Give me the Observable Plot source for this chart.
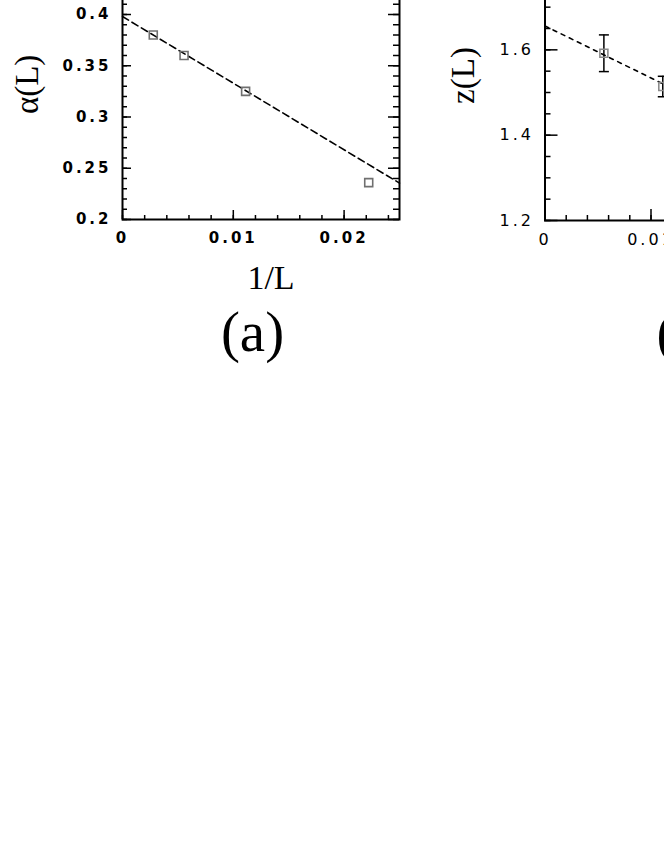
<!DOCTYPE html>
<html>
<head>
<meta charset="utf-8">
<script src="https://cdn.jsdelivr.net/npm/d3@7"></script>
<script src="https://cdn.jsdelivr.net/npm/@observablehq/plot@0.6"></script>
<style>
  body { margin: 0; background: #fff; }
  #wrap { position: relative; width: 664px; height: 860px; overflow: hidden; background: #fff; }
  #wrap > div { position: absolute; top: -60px; width: 420px; height: 440px; }
  #wrap svg { max-width: none !important; width: 420px; height: 440px; }
  #pa { left: 0px; }
  #pb { left: 420px; }
  g[aria-label="y-axis tick label"] text,
  g[aria-label="x-axis tick label"] text { letter-spacing: 3px; }
</style>
</head>
<body>
<div id="wrap"><div id="pa"></div><div id="pb"></div></div>
<script>
// ---------- Panel (a): alpha(L) vs 1/L ----------
const invLA = [1/360, 1/180, 1/90, 1/45];
const alphaL = [0.380, 0.360, 0.325, 0.236];
const fitAx = [0, 0.025];
const fitAy = [0.398, 0.2355];
const yTicksA = [0.2, 0.25, 0.3, 0.35, 0.4];
const yTickLabelsA = ["0.2", "0.25", "0.3", "0.35", "0.4"];
const xTicks = [0, 0.01, 0.02];
const xTickLabels = ["0", "0.01", "0.02"];

// ---------- Panel (b): z(L) vs 1/L ----------
const invLB = [1/180, 1/90];
const zL = [1.592, 1.514];
const zErr = [0.043, 0.024];
const fitBx = [0, 0.025];
const fitBy = [1.656, 1.351];
const yTicksB = [1.2, 1.4, 1.6];
const yTickLabelsB = ["1.2", "1.4", "1.6"];

const ptsA = invLA.map((x, i) => ({x, y: alphaL[i]}));
const fitA = fitAx.map((x, i) => ({x, y: fitAy[i]}));
const ptsB = invLB.map((x, i) => ({x, y: zL[i], lo: zL[i] - zErr[i], hi: zL[i] + zErr[i]}));
const fitB = fitBx.map((x, i) => ({x, y: fitBy[i]}));

const serif = "Liberation Serif, Times New Roman, serif";
const capSymbol = {draw(ctx, size) { const w = Math.sqrt(size) / 2; ctx.moveTo(-w, 0); ctx.lineTo(w, 0); }};

function steps(domain, step) {
  const a = Math.ceil(domain[0] / step - 1e-9), b = Math.floor(domain[1] / step + 1e-9);
  return d3.range(a, b + 1).map(k => +(k * step).toFixed(6));
}

function inwardTicks(xDomain, yDomain, xMinorStep, xMajorStep, yMinorStep, yMajorStep, pw, ph, o) {
  const xmin = steps(xDomain, xMinorStep), xmaj = steps(xDomain, xMajorStep);
  const ymin = steps(yDomain, yMinorStep), ymaj = steps(yDomain, yMajorStep);
  const st = {stroke: "black", strokeWidth: 1.5};
  const marks = [
    Plot.tickY(ymin, {y: d => d, insetRight: pw - o.yMinL, ...st}),
    Plot.tickY(ymaj, {y: d => d, insetRight: pw - o.yMajL, ...st}),
    Plot.tickX(xmin, {x: d => d, insetTop: ph - o.xMinL, ...st}),
    Plot.tickX(xmaj, {x: d => d, insetTop: ph - o.xMajL, ...st})
  ];
  if (o.right) {
    marks.push(Plot.tickY(ymin, {y: d => d, insetLeft: pw - o.yMinR, ...st}));
    marks.push(Plot.tickY(ymaj, {y: d => d, insetLeft: pw - o.yMajR, ...st}));
  }
  return marks;
}

// Panel (a)
const pwA = 277, phA = 256.25;
const plotA = Plot.plot({
  width: 420, height: 440,
  marginLeft: 122, marginRight: 21, marginTop: 22.75, marginBottom: 161,
  x: {domain: [0, 0.025]},
  y: {domain: [0.2, 0.45]},
  style: {fontFamily: "DejaVu Sans, sans-serif", fontSize: "15px", fontWeight: "bold", color: "black", background: "transparent"},
  marks: [
    ...inwardTicks([0, 0.025], [0.2, 0.45], 0.002, 0.01, 0.01, 0.05, pwA, phA,
      {yMinL: 5, yMajL: 9, xMinL: 4, xMajL: 9, right: true, yMinR: 6, yMajR: 11}),
    Plot.frame({stroke: "black", strokeWidth: 2}),
    Plot.line(fitA, {x: "x", y: "y", stroke: "black", strokeWidth: 1.6, strokeDasharray: "7,4"}),
    Plot.dot(ptsA, {x: "x", y: "y", symbol: "square", r: 4.5, fill: "none", stroke: "#707070", strokeWidth: 1.6}),
    Plot.axisY(yTicksA, {anchor: "left", tickSize: 0, tickPadding: 11, label: null,
      tickFormat: d => yTickLabelsA[yTicksA.indexOf(d)]}),
    Plot.axisX(xTicks, {anchor: "bottom", tickSize: 0, tickPadding: 13, label: null,
      tickFormat: d => xTickLabels[xTicks.indexOf(d)]}),
    Plot.text(["1/L"], {text: d => d, frameAnchor: "bottom", dx: 10, dy: 69, lineAnchor: "bottom",
      fontFamily: serif, fontSize: 34, fontWeight: "normal"}),
    Plot.text(["(a)"], {text: d => d, frameAnchor: "bottom", dx: -8.5, dy: 131, lineAnchor: "bottom",
      fontFamily: serif, fontSize: 57, fontWeight: "normal"}),
    Plot.text(["α(L)"], {text: d => d, frameAnchor: "left", rotate: -90, dx: -95, dy: -7,
      textAnchor: "middle", lineAnchor: "middle",
      fontFamily: serif, fontSize: 33, fontWeight: "normal"})
  ]
});
document.getElementById("pa").appendChild(plotA);

// Panel (b)
const pwB = 265, phB = 256;
const plotB = Plot.plot({
  width: 420, height: 440,
  marginLeft: 124.5, marginRight: 30.5, marginTop: 24, marginBottom: 160,
  x: {domain: [0, 0.025]},
  y: {domain: [1.2, 1.8]},
  style: {fontFamily: "DejaVu Sans, sans-serif", fontSize: "16px", fontWeight: "normal", color: "black", background: "transparent"},
  marks: [
    ...inwardTicks([0, 0.025], [1.2, 1.8], 0.002, 0.01, 0.05, 0.2, pwB, phB,
      {yMinL: 6, yMajL: 13, xMinL: 5, xMajL: 11, right: false}),
    Plot.frame({stroke: "black", strokeWidth: 2}),
    Plot.line(fitB, {x: "x", y: "y", stroke: "black", strokeWidth: 1.6, strokeDasharray: "4,5"}),
    Plot.ruleX(ptsB, {x: "x", y1: "lo", y2: "hi", stroke: "black", strokeWidth: 1.5}),
    Plot.dot(ptsB, {x: "x", y: "lo", symbol: capSymbol, r: 5.64, fill: "none", stroke: "black", strokeWidth: 1.5}),
    Plot.dot(ptsB, {x: "x", y: "hi", symbol: capSymbol, r: 5.64, fill: "none", stroke: "black", strokeWidth: 1.5}),
    Plot.dot(ptsB, {x: "x", y: "y", symbol: "square", r: 4.5, fill: "none", stroke: "#8a8a8a", strokeWidth: 1.6}),
    Plot.axisY(yTicksB, {anchor: "left", tickSize: 0, tickPadding: 11, label: null,
      tickFormat: d => yTickLabelsB[yTicksB.indexOf(d)]}),
    Plot.axisX(xTicks, {anchor: "bottom", tickSize: 0, tickPadding: 13, label: null,
      tickFormat: d => xTickLabels[xTicks.indexOf(d)]}),
    Plot.text(["(b)"], {text: d => d, frameAnchor: "bottom-left", dx: 111.5, dy: 131, lineAnchor: "bottom", textAnchor: "start",
      fontFamily: serif, fontSize: 57, fontWeight: "normal"}),
    Plot.text(["z(L)"], {text: d => d, frameAnchor: "left", rotate: -90, dx: -81.5, dy: -17,
      textAnchor: "middle", lineAnchor: "middle",
      fontFamily: serif, fontSize: 33, fontWeight: "normal"})
  ]
});
document.getElementById("pb").appendChild(plotB);
</script>
</body>
</html>
